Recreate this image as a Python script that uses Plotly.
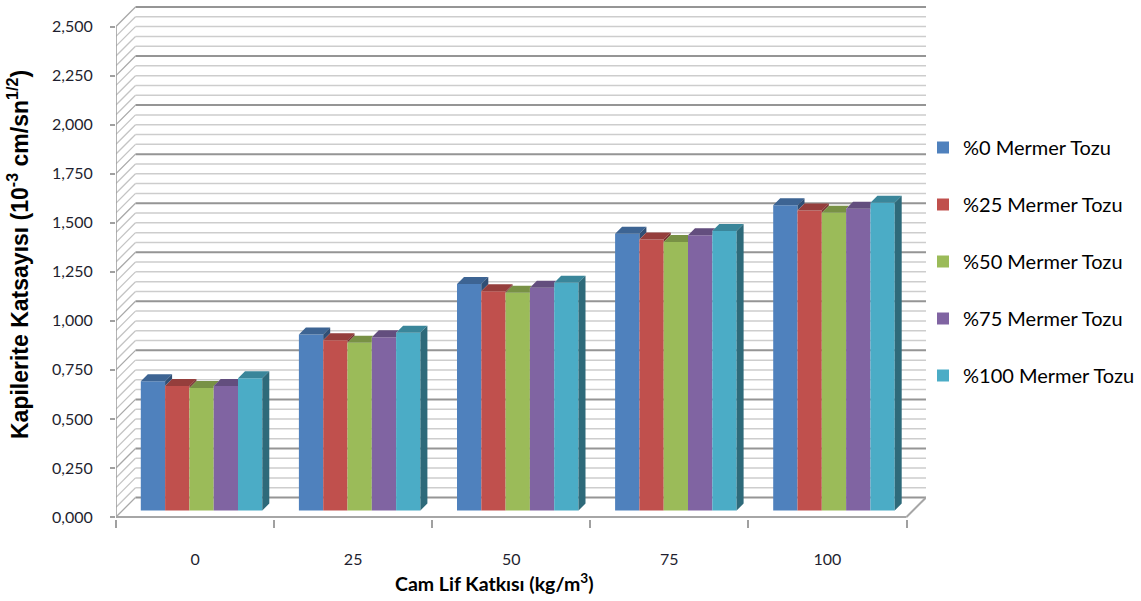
import plotly.graph_objects as go

# ---------------- data ----------------
categories = ["0", "25", "50", "75", "100"]
series_names = ["%0 Mermer Tozu", "%25 Mermer Tozu", "%50 Mermer Tozu",
                "%75 Mermer Tozu", "%100 Mermer Tozu"]
mermer_0 = [0.659, 0.897, 1.155, 1.410, 1.556]
mermer_25 = [0.634, 0.868, 1.118, 1.381, 1.529]
mermer_50 = [0.625, 0.855, 1.110, 1.368, 1.517]
mermer_75 = [0.634, 0.883, 1.135, 1.403, 1.538]
mermer_100 = [0.674, 0.906, 1.161, 1.424, 1.568]
y_tick_values = [0.0, 0.25, 0.5, 0.75, 1.0, 1.25, 1.5, 1.75, 2.0, 2.25, 2.5]
x_title = "Cam Lif Katkısı (kg/m<sup>3</sup>)"
y_title = "Kapilerite Katsayısı (10<sup>-3</sup> cm/sn<sup>1/2</sup>)"

series_values = [mermer_0, mermer_25, mermer_50, mermer_75, mermer_100]
front_colors = ["#4F81BD", "#C0504D", "#9BBB59", "#8064A2", "#4BACC6"]


def shade(hexcol, f):
    h = hexcol.lstrip("#")
    r, g, b = (int(h[i:i + 2], 16) for i in (0, 2, 4))
    return "#%02x%02x%02x" % (int(r * f), int(g * f), int(b * f))


# ---------------- layout geometry (pixels) ----------------
W, H = 1141, 601
ML, MR, MT, MB = 116, 215, 5, 82
PW = W - ML - MR
PH = H - MT - MB
WALL_PX = 19.5      # depth of the back wall (oblique projection)
PAD_BOT_PX = 2
PAD_TOP_PX = 2
n_cat = len(categories)
y_max = y_tick_values[-1]
PX = (PW - WALL_PX) / n_cat
PY = (PH - WALL_PX - PAD_BOT_PX - PAD_TOP_PX) / y_max
DX = WALL_PX / PX
DY = WALL_PX / PY
x_lo, x_hi = -0.5, n_cat - 0.5
y_lo = -PAD_BOT_PX / PY
y_hi = y_max + DY + PAD_TOP_PX / PY

BAR_W = 24.3 / PX
BAR_SHIFT_X = 6.5 / PX
BAR_BASE = 6.5 / PY
BD_X = 7.0 / PX
BD_Y = 7.0 / PY


def clip(poly, a, b, c):
    """Keep part of convex polygon where a*x + b*y + c >= 0."""
    out = []
    m = len(poly)
    for i in range(m):
        p, q = poly[i], poly[(i + 1) % m]
        fp = a * p[0] + b * p[1] + c
        fq = a * q[0] + b * q[1] + c
        if fp >= 0:
            out.append(p)
        if (fp >= 0) != (fq >= 0):
            t = fp / (fp - fq)
            out.append((p[0] + t * (q[0] - p[0]), p[1] + t * (q[1] - p[1])))
    return out if len(out) >= 3 else []


def above_line(x0, y0):
    # half-plane above the line through (x0, y0) along depth direction
    return (-BD_Y, BD_X, BD_Y * x0 - BD_X * y0)


fig = go.Figure()

# ---------------- back wall, left wall, floor (shapes below traces) ----------------
shapes = []
minor_step = 0.05
n_minor = int(round(y_max / minor_step))
for k in range(n_minor + 1):
    v = k * minor_step
    major = (k % 5 == 0)
    col = "#959595" if major else "#cdcdcd"
    wid = 2 if major else 1.5
    shapes.append(dict(type="line", xref="x", yref="y", layer="below",
                       x0=x_lo + DX, x1=x_hi + DX, y0=v + DY, y1=v + DY,
                       line=dict(color=col, width=wid)))
    shapes.append(dict(type="line", xref="x", yref="y", layer="below",
                       x0=x_lo, x1=x_lo + DX, y0=v, y1=v + DY,
                       line=dict(color="#a8a8a8" if major else "#c4c4c4", width=1.3)))
# front value axis line
shapes.append(dict(type="line", xref="x", yref="y", layer="below",
                   x0=x_lo, x1=x_lo, y0=0, y1=y_max,
                   line=dict(color="#a0a0a0", width=1.6)))
# floor front edge and right edge
shapes.append(dict(type="line", xref="x", yref="y", layer="below",
                   x0=x_lo, x1=x_hi, y0=0, y1=0,
                   line=dict(color="#a6a6a6", width=2)))
shapes.append(dict(type="line", xref="x", yref="y", layer="below",
                   x0=x_hi, x1=x_hi + DX, y0=0, y1=DY,
                   line=dict(color="#a6a6a6", width=2)))

# ---------------- bars ----------------
xpos = list(range(n_cat))
n_ser = len(series_values)
tops_x = [[] for _ in range(n_ser)]
tops_y = [[] for _ in range(n_ser)]
sides_x = [[] for _ in range(n_ser)]
sides_y = [[] for _ in range(n_ser)]


def add_poly(lx, ly, poly):
    if not poly:
        return
    for p in poly:
        lx.append(p[0])
        ly.append(p[1])
    lx.append(poly[0][0])
    ly.append(poly[0][1])
    lx.append(None)
    ly.append(None)


for j, vals in enumerate(series_values):
    off = BAR_SHIFT_X + (j - n_ser / 2) * BAR_W
    fig.add_trace(go.Bar(
        x=xpos, y=vals, base=BAR_BASE, width=BAR_W, offset=off,
        name=series_names[j], legendgroup=series_names[j],
        marker=dict(color=front_colors[j], line=dict(width=0)),
    ))
    for i, v in enumerate(vals):
        a = xpos[i] + off
        b = a + BAR_W
        h = BAR_BASE + v
        top = [(a, h), (b, h), (b + BD_X, h + BD_Y), (a + BD_X, h + BD_Y)]
        side = [(b, BAR_BASE), (b, h), (b + BD_X, h + BD_Y), (b + BD_X, BAR_BASE + BD_Y)]
        if j < n_ser - 1:
            h2 = BAR_BASE + series_values[j + 1][i]
            la, lb, lc = above_line(b, h2)
            add_poly(tops_x[j], tops_y[j], clip(top, -1, 0, b))
            add_poly(tops_x[j], tops_y[j], clip(clip(top, 1, 0, -b), la, lb, lc))
            add_poly(sides_x[j], sides_y[j], clip(side, la, lb, lc))
        else:
            add_poly(tops_x[j], tops_y[j], top)
            add_poly(sides_x[j], sides_y[j], side)

for j in range(n_ser):
    fig.add_trace(go.Scatter(
        x=tops_x[j], y=tops_y[j], mode="lines", fill="toself",
        fillcolor=shade(front_colors[j], 0.78), line=dict(width=0),
        showlegend=False, hoverinfo="skip"))
    fig.add_trace(go.Scatter(
        x=sides_x[j], y=sides_y[j], mode="lines", fill="toself",
        fillcolor=shade(front_colors[j], 0.62), line=dict(width=0),
        showlegend=False, hoverinfo="skip"))


def px_to_paper(xp, yp):
    return (xp - ML) / PW, (H - MB - yp) / PH


tx, ty = px_to_paper(18, 255)
ax_, ay_ = px_to_paper(494, 582)
lx, ly = px_to_paper(923, 128)

tick_font = dict(family="Lato", size=16, color="#1f1f2f")

fig.update_layout(
    width=W, height=H,
    margin=dict(l=ML, r=MR, t=MT, b=MB, autoexpand=False),
    paper_bgcolor="white", plot_bgcolor="white",
    barmode="overlay",
    separators=",.",
    shapes=shapes,
    showlegend=True,
    legend=dict(x=lx, y=ly, xanchor="left", yanchor="top",
                font=dict(family="Lato", size=20, color="#000000"),
                tracegroupgap=28, bgcolor="rgba(0,0,0,0)"),
    xaxis=dict(range=[x_lo, x_hi + DX], tickvals=xpos, ticktext=categories,
               ticks="", showline=False, showgrid=False, zeroline=False,
               tickfont=tick_font, ticklabelstandoff=29,
               minor=dict(tickvals=[i - 0.5 for i in range(n_cat + 1)],
                          ticks="outside", ticklen=8, tickcolor="#a0a0a0",
                          tickwidth=1.5, showgrid=False)),
    yaxis=dict(range=[y_lo, y_hi], tickvals=y_tick_values, tickformat=".3f",
               ticks="outside", ticklen=5, tickcolor="#a0a0a0", tickwidth=1.5,
               showline=False, showgrid=False, zeroline=False,
               tickfont=tick_font, ticklabelstandoff=14),
    annotations=[
        dict(text="<b>" + y_title + "</b>", xref="paper", yref="paper", x=tx, y=ty,
             showarrow=False, textangle=-90, xanchor="center", yanchor="middle",
             font=dict(family="Liberation Sans", size=23, color="#000000")),
        dict(text="<b>" + x_title + "</b>", xref="paper", yref="paper", x=ax_, y=ay_,
             showarrow=False, xanchor="center", yanchor="middle",
             font=dict(family="Lato", size=19.5, color="#000000")),
    ],
)

fig.write_html("out.html", config={"displayModeBar": False},
               post_script="document.body.style.margin='0px';")
